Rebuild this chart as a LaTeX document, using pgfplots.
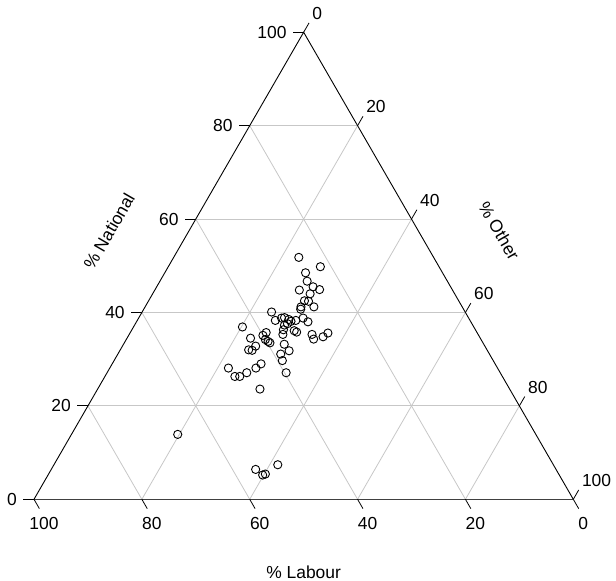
\documentclass[border=0pt]{standalone}
\usepackage{pgfplots}
\pgfplotsset{compat=1.18}
\usepackage{pgfplotstable}
\usepackage{fontspec}
\setmainfont{Liberation Sans}

\pgfplotstableread{
L N O
25.0 51.8 23.2
22.0 49.8 28.2
25.4 48.5 26.1
26.0 46.7 27.3
25.5 45.5 29.0
24.6 44.9 30.5
28.4 44.8 26.8
26.8 44.0 29.2
28.6 42.5 28.9
27.9 42.4 29.7
29.9 41.2 28.9
27.5 41.2 31.3
30.2 40.7 29.1
35.9 40.1 24.0
36.1 38.3 25.6
34.7 38.8 26.5
34.1 38.9 27.0
33.5 38.5 28.0
33.3 38.1 28.6
32.3 38.3 29.4
30.7 38.8 30.5
30.2 38.0 31.8
34.2 37.6 28.2
34.9 37.3 27.8
42.9 36.9 20.2
39.1 35.7 25.2
40.0 35.1 24.9
35.6 36.3 28.1
33.7 36.1 30.2
33.4 35.8 30.8
36.2 35.3 28.5
30.8 35.3 33.9
29.0 34.8 36.2
27.7 35.6 36.7
31.0 34.3 34.7
42.6 34.5 22.9
40.0 34.2 25.8
39.7 33.8 26.5
39.5 33.5 27.0
37.0 33.2 29.8
42.5 32.8 24.7
44.2 32.0 23.8
43.6 31.9 24.5
36.8 31.8 31.4
38.7 31.1 30.2
39.1 29.7 31.2
43.4 29.0 27.6
49.9 28.1 22.0
44.8 28.1 27.1
47.0 27.1 25.9
49.6 26.3 24.1
48.7 26.3 25.0
39.7 27.1 33.2
46.3 23.6 30.1
66.4 13.9 19.7
55.7 6.4 37.9
55.0 5.2 39.8
54.4 5.4 40.2
51.1 7.4 41.5
}\ternarydata

\begin{document}
\begin{tikzpicture}[
  lab/.style={font=\fontsize{17.5}{20}\selectfont, inner sep=0pt},
  tk/.style={black, line width=0.8bp},
  ll/.style={lab, anchor=east, xshift=-17bp},
  bl/.style={lab, anchor=north, xshift=10bp, yshift=-17.8bp},
  rl/.style={lab, anchor=south west, xshift=8.5bp, yshift=12.5bp}]
\begin{axis}[
  x=5.393bp, y=5.393bp,
  xmin=0, xmax=100, ymin=0, ymax=86.6025,
  hide axis, clip=false,
  grd/.style={color=black!22, line width=0.8bp, forget plot}]

% grid lines (National, Labour, Other = 20,40,60,80)
\addplot[grd] coordinates {(10,17.3205) (90,17.3205)};
\addplot[grd] coordinates {(20,34.641) (80,34.641)};
\addplot[grd] coordinates {(30,51.9615) (70,51.9615)};
\addplot[grd] coordinates {(40,69.282) (60,69.282)};
\addplot[grd] coordinates {(80,0) (40,69.282)};
\addplot[grd] coordinates {(60,0) (30,51.9615)};
\addplot[grd] coordinates {(40,0) (20,34.641)};
\addplot[grd] coordinates {(20,0) (10,17.3205)};
\addplot[grd] coordinates {(20,0) (60,69.282)};
\addplot[grd] coordinates {(40,0) (70,51.9615)};
\addplot[grd] coordinates {(60,0) (80,34.641)};
\addplot[grd] coordinates {(80,0) (90,17.3205)};

% triangle frame
\addplot[black, line width=0.9bp, forget plot] coordinates {(0,0) (50,86.6025) (100,0)};
\addplot[black!75, line width=1.3bp, forget plot] coordinates {(0,0) (100,0)};

% data
\addplot[only marks, mark=o, mark size=4.1bp, black, mark options={line width=0.9bp}]
  table[x expr=\thisrow{O}+0.5*\thisrow{N}, y expr=0.8660254*\thisrow{N}] {\ternarydata};

% National axis (left)
\draw[tk] (axis cs:0,0) -- ++(-10.5bp,0);
\draw[tk] (axis cs:10,17.3205) -- ++(-10.5bp,0);
\draw[tk] (axis cs:20,34.641) -- ++(-10.5bp,0);
\draw[tk] (axis cs:30,51.9615) -- ++(-10.5bp,0);
\draw[tk] (axis cs:40,69.282) -- ++(-10.5bp,0);
\draw[tk] (axis cs:50,86.6025) -- ++(-10.5bp,0);
\node[ll] at (axis cs:0,0) {0};
\node[ll] at (axis cs:10,17.3205) {20};
\node[ll] at (axis cs:20,34.641) {40};
\node[ll] at (axis cs:30,51.9615) {60};
\node[ll] at (axis cs:40,69.282) {80};
\node[ll] at (axis cs:50,86.6025) {100};

% Labour axis (bottom)
\draw[tk] (axis cs:0,0) -- ++(5.4bp,-9.35bp);
\draw[tk] (axis cs:20,0) -- ++(5.4bp,-9.35bp);
\draw[tk] (axis cs:40,0) -- ++(5.4bp,-9.35bp);
\draw[tk] (axis cs:60,0) -- ++(5.4bp,-9.35bp);
\draw[tk] (axis cs:80,0) -- ++(5.4bp,-9.35bp);
\draw[tk] (axis cs:100,0) -- ++(5.4bp,-9.35bp);
\node[bl] at (axis cs:0,0) {100};
\node[bl] at (axis cs:20,0) {80};
\node[bl] at (axis cs:40,0) {60};
\node[bl] at (axis cs:60,0) {40};
\node[bl] at (axis cs:80,0) {20};
\node[bl] at (axis cs:100,0) {0};

% Other axis (right)
\draw[tk] (axis cs:50,86.6025) -- ++(5.4bp,9.35bp);
\draw[tk] (axis cs:60,69.282) -- ++(5.4bp,9.35bp);
\draw[tk] (axis cs:70,51.9615) -- ++(5.4bp,9.35bp);
\draw[tk] (axis cs:80,34.641) -- ++(5.4bp,9.35bp);
\draw[tk] (axis cs:90,17.3205) -- ++(5.4bp,9.35bp);
\draw[tk] (axis cs:100,0) -- ++(5.4bp,9.35bp);
\node[rl] at (axis cs:50,86.6025) {0};
\node[rl] at (axis cs:60,69.282) {20};
\node[rl] at (axis cs:70,51.9615) {40};
\node[rl] at (axis cs:80,34.641) {60};
\node[rl] at (axis cs:90,17.3205) {80};
\node[rl] at (axis cs:100,0) {100};

% axis titles
\node[lab, rotate=60] at ([shift={(-59.8bp,34.5bp)}]axis cs:25,43.30127) {\% National};
\node[lab, rotate=-60] at ([shift={(60.6bp,35bp)}]axis cs:75,43.30127) {\% Other};
\node[lab, yshift=-73.2bp] at (axis cs:50,0) {\% Labour};

\coordinate (BL) at (axis cs:0,0);
\end{axis}
\pgfresetboundingbox
\path ([shift={(-34bp,-81.7bp)}]BL) rectangle ([shift={(582bp,499.3bp)}]BL);
\end{tikzpicture}
\end{document}
